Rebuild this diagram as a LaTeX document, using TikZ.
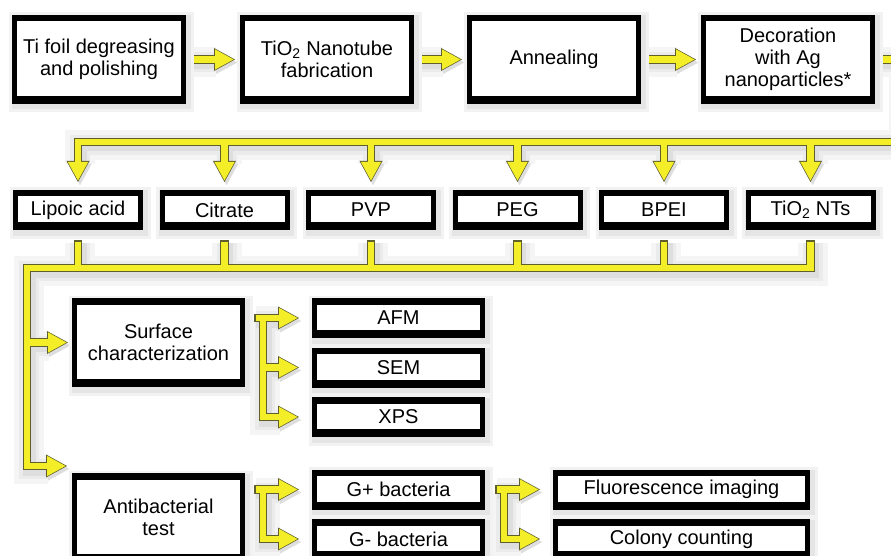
\documentclass[tikz,border=0pt]{standalone}
\usepackage{fontspec}
\setmainfont{Liberation Sans}
\usepackage{tikz}
\usetikzlibrary{positioning, arrows.meta, backgrounds}

\definecolor{yfill}{RGB}{244,238,40}
\definecolor{ydark}{RGB}{95,95,45}

\begin{document}
\begin{tikzpicture}[
		box/.style={rectangle, draw=black, fill=white, line width=5pt, inner sep=1pt, align=center,
			font=\fontsize{20pt}{22pt}\selectfont,
			preaction={draw=black!5, line width=16pt, transform canvas={shift={(2pt,-3pt)}}},
			preaction={draw=black!10, line width=10pt, transform canvas={shift={(2pt,-3pt)}}},
			path picture={
				\fill[black] (path picture bounding box.north west) rectangle ([yshift=-4pt]path picture bounding box.north east);
				\fill[black] (path picture bounding box.south west) rectangle ([yshift=5.5pt]path picture bounding box.south east);}},
		stage/.style={box, minimum width=169pt, minimum height=84pt},
		agent/.style={box, minimum width=125pt, minimum height=35pt},
		group/.style={box, minimum width=168pt, minimum height=84pt},
		method/.style={box, minimum width=168pt, minimum height=35pt},
		% connector passes: soft shadow, dark rim, yellow core
		ysha/.style={draw=black!4, line width=30pt, transform canvas={shift={(2pt,-3pt)}}, >={Triangle[length=21pt,width=23pt,line width=0pt]}},
		yshb/.style={draw=black!8, line width=20pt, transform canvas={shift={(2pt,-3pt)}}, >={Triangle[length=21pt,width=23pt,line width=0pt]}},
		yshc/.style={draw=black!13, line width=13pt, transform canvas={shift={(2pt,-3pt)}}, >={Triangle[length=21pt,width=23pt,line width=0pt]}},
		yout/.style={draw=ydark, line width=8.5pt, >={Triangle[length=21pt,width=23pt,line width=0pt]}},
		yin/.style={draw=yfill, line width=6.5pt, shorten <=1.5pt, shorten >=1.5pt, >={Triangle[length=18.5pt,width=20.3pt,line width=0pt]}}
		]
		
		\useasboundingbox (0,0) rectangle (891pt,-556pt);
		
		% Top row: preparation steps
		\node[stage] (t1) at (99pt,-59.5pt) {Ti foil degreasing\\and polishing};
		\node[stage, right=54pt of t1] (t2) {TiO\textsubscript{2} Nanotube\\fabrication};
		\node[stage, right=53pt of t2] (t3) {Annealing};
		\node[stage, right=60pt of t3] (t4) {Decoration\\with Ag\\nanoparticles*};
		
		% Second row: surface coatings
		\node[agent] (m1) at (78pt,-210pt) {Lipoic acid};
		\node[agent, right=16.5pt of m1] (m2) {Citrate};
		\node[agent, right=16.5pt of m2] (m3) {PVP};
		\node[agent, right=16.5pt of m3] (m4) {PEG};
		\node[agent, right=16.5pt of m4] (m5) {BPEI};
		\node[agent, right=16.5pt of m5] (m6) {TiO\textsubscript{2} NTs};
		
		% Surface characterization branch
		\node[group] (surf) at (158.5pt,-342.5pt) {Surface\\characterization};
		\node[method] (afm) at (398.5pt,-318pt) {AFM};
		\node[method, below=9.5pt of afm] (sem) {SEM};
		\node[method, below=9.5pt of sem] (xps) {XPS};
		
		% Antibacterial branch
		\node[group] (anti) at (158.5pt,-517.5pt) {Antibacterial\\test};
		\node[method] (gpos) at (398.5pt,-489.5pt) {G+ bacteria};
		\node[method, below=9.5pt of gpos] (gneg) {G- bacteria};
		\node[box, minimum width=252pt, minimum height=35pt, right=68pt of gpos] (fluo) {Fluorescence imaging};
		\node[box, minimum width=252pt, minimum height=35pt, below=9.5pt of fluo] (colony) {Colony counting};
		
		% Bus lines and forks
		\coordinate (bus) at (0,-142pt);
		\coordinate (trunk) at (27pt,-268pt);
		\coordinate (sfork) at ([xshift=-49pt]afm.west);
		\coordinate (afork) at ([xshift=-49pt]gpos.west);
		\coordinate (bfork) at ([xshift=-49pt]fluo.west);
		
		\begin{scope}[on background layer]
			\foreach \pass in {ysha,yshb,yshc,yout,yin}{
				% top row arrows
				\draw[\pass, ->] ([xshift=5pt]t1.east) -- ([xshift=-5pt]t2.west);
				\draw[\pass, ->] ([xshift=5pt]t2.east) -- ([xshift=-5pt]t3.west);
				\draw[\pass, ->] ([xshift=5pt]t3.east) -- ([xshift=-5pt]t4.west);
				\draw[\pass, ->] ([xshift=5pt]t4.east) -- ++(22pt,0) |- (bus -| m1) -- ([yshift=8pt]m1.north);
				\foreach \m in {m2,m3,m4,m5,m6}
					\draw[\pass, ->] (bus -| \m) -- ([yshift=8pt]\m.north);
				% collecting line
				\foreach \m in {m1,m2,m3,m4,m5}
					\draw[\pass] (trunk -| \m) -- ([yshift=-10pt]\m.south);
				\draw[\pass, ->] ([yshift=-10pt]m6.south) |- (trunk) |- ([shift={(-5pt,7pt)}]anti.north west);
				\draw[\pass, ->] (trunk |- surf.west) -- ([xshift=-4pt]surf.west);
				% forks
				\draw[\pass, ->] ([xshift=-58pt]afm.west) -- ([xshift=-13pt]afm.west);
				\draw[\pass, ->] (sfork |- sem.west) -- ([xshift=-13pt]sem.west);
				\draw[\pass, ->] (sfork) |- ([xshift=-13pt]xps.west);
				\draw[\pass, ->] ([xshift=-58pt]gpos.west) -- ([xshift=-13pt]gpos.west);
				\draw[\pass, ->] (afork) |- ([xshift=-13pt]gneg.west);
				\draw[\pass, ->] ([xshift=-58pt]fluo.west) -- ([xshift=-13pt]fluo.west);
				\draw[\pass, ->] (bfork) |- ([xshift=-13pt]colony.west);
			}
		\end{scope}
		
	\end{tikzpicture}
\end{document}
